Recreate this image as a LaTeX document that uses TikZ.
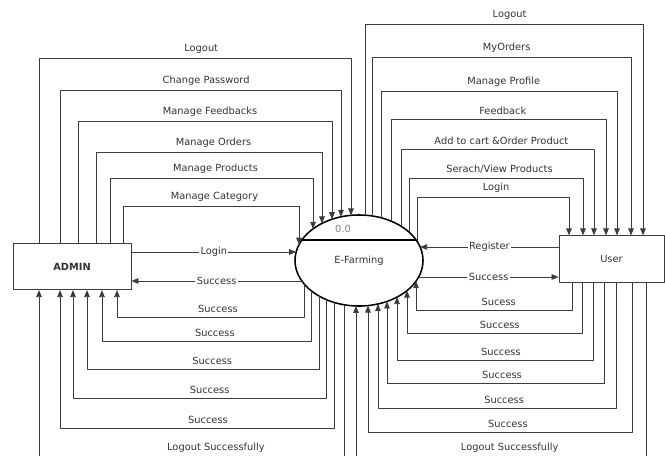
\documentclass[tikz,border=0pt]{standalone}
\usepackage{fontspec}
\setmainfont{DejaVu Sans}
\usetikzlibrary{arrows.meta,calc,shapes.geometric}
\definecolor{linegray}{HTML}{3C3C3C}
\definecolor{txtgray}{HTML}{333333}

\begin{document}
\begin{tikzpicture}[x=0.025cm, y=-0.025cm, font=\fontsize{7}{8}\selectfont, line join=round,
	flow/.style={draw=linegray, line width=0.6pt, -{Triangle[length=5pt,width=4pt]}},
	lbl/.style={text=txtgray, inner sep=1.5pt},
	tag/.style={lbl, above=1.2pt},
	onl/.style={lbl, fill=white, inner sep=1pt},
	ent/.style={draw=linegray, line width=0.6pt, fill=white, minimum height=1.16cm, text=txtgray}]
	% half axes of the process ellipse
	\def\ea{64}
	\def\eb{45.5}
	
	\useasboundingbox (0,0) rectangle (665,455);
	\clip (0,0) rectangle (665,455);
	
	% entities and process
	\node[ent, minimum width=2.95cm, font=\fontsize{7}{8}\selectfont\bfseries] (admin) at (72,266.5) {ADMIN};
	\node[ent, minimum width=2.625cm] (user) at (611.5,259) {User};
	\node[ellipse, draw=black, line width=1.1pt, fill=white, text=txtgray, minimum width=3.2cm, minimum height=2.275cm, inner sep=0pt, outer sep=0pt] (ef) at (359,260.5) {E-Farming};
	
	% dividing line and number of the process
	\coordinate (dl) at ($(ef.center)+({-\ea*sqrt(1-(20.5/\eb)^2)},-20.5)$);
	\coordinate (dr) at ($(ef.center)+({\ea*sqrt(1-(20.5/\eb)^2)},-20.5)$);
	\draw[line width=1.1pt] (dl) -- (dr);
	\node[lbl, text=gray] (efid) at (343,229) {0.0};
	
	% points on the ellipse
	\foreach \n/\dx in {1/-60, 2/-46, 3/-37, 4/-27, 5/-18, 6/-8}
		\coordinate (at\n) at ($(ef.center)+(\dx,{-\eb*sqrt(1-(\dx/\ea)^2)})$);
	\foreach \n/\dx in {1/58, 2/50, 3/42, 4/32, 5/22, 6/13, 7/6}
		\coordinate (ut\n) at ($(ef.center)+(\dx,{-\eb*sqrt(1-(\dx/\ea)^2)})$);
	\foreach \n/\dx in {1/-55, 2/-48, 3/-40, 4/-33, 5/-25, 6/-15}
		\coordinate (ab\n) at ($(ef.center)+(\dx,{\eb*sqrt(1-(\dx/\ea)^2)})$);
	\foreach \n/\dx in {0/-3, 1/57, 2/48, 3/38, 4/28, 5/19, 6/9}
		\coordinate (eb\n) at ($(ef.center)+(\dx,{\eb*sqrt(1-(\dx/\ea)^2)})$);
	\coordinate (lin) at ($(ef.center)+({-\ea*sqrt(1-(8.5/\eb)^2)},-8.5)$);
	\coordinate (sad) at ($(ef.center)+({-\ea*sqrt(1-(20.5/\eb)^2)},20.5)$);
	\coordinate (reg) at ($(ef.center)+({\ea*sqrt(1-(13.5/\eb)^2)},-13.5)$);
	\coordinate (sus) at ($(ef.center)+({\ea*sqrt(1-(16.5/\eb)^2)},16.5)$);
	
	% ADMIN -> E-Farming, over the top
	\foreach \n/\x/\y/\txt in {6/39/58/Logout, 5/60/90/Change Password, 4/78/121/Manage Feedbacks, 3/96/152/Manage Orders, 2/110/178/Manage Products, 1/123/206/Manage Category}
		\draw[flow] (admin.north -| \x,0) |- (at\n |- 0,\y) node[tag, pos=0.76] {\txt} -- (at\n);
	
	% E-Farming -> ADMIN, underneath
	\foreach \n/\x/\y in {1/117/317, 2/102/341, 3/87/369, 4/73/398, 5/60/428}
		\draw[flow] (ab\n) -- (ab\n |- 0,\y) -| (admin.south -| \x,0) node[tag, pos=0.23] {Success};
	\draw[flow] (ab6) -- (ab6 |- 0,457) -| (admin.south -| 39,0) node[tag, pos=0.21] {Logout Successfully};
	
	% E-Farming -> User, over the top
	\foreach \n/\x/\y/\txt in {1/569/197/Login, 2/583/178/{Serach/View Products}, 3/594/149/{Add to cart \&Order Product}, 4/606/119/Feedback, 5/617/91/Manage Profile, 6/631/57/MyOrders, 7/643/24/Logout}
		\draw[flow] (ut\n) -- (ut\n |- 0,\y) -| (user.north -| \x,0) node[tag, pos=0.26] {\txt};
	
	% User -> E-Farming, underneath
	\foreach \n/\x/\y/\txt in {1/572/310/Sucess, 2/582/333/Success, 3/593/360/Success, 4/604/383/Success, 5/616/408/Success, 6/632/432/Success, 0/646/457/Logout Successfully}
		\draw[flow] (user.south -| \x,0) |- (eb\n |- 0,\y) node[tag, pos=0.735] {\txt} -- (eb\n);
	
	% straight flows
	\draw[flow] (admin.east |- lin) -- node[onl] {Login} (lin);
	\draw[flow] (sad) -- node[onl] {Success} (admin.east |- sad);
	\draw[flow] (user.west |- reg) -- node[onl] {Register} (reg);
	\draw[flow] (sus) -- node[onl] {Success} (user.west |- sus);
\end{tikzpicture}
\end{document}
